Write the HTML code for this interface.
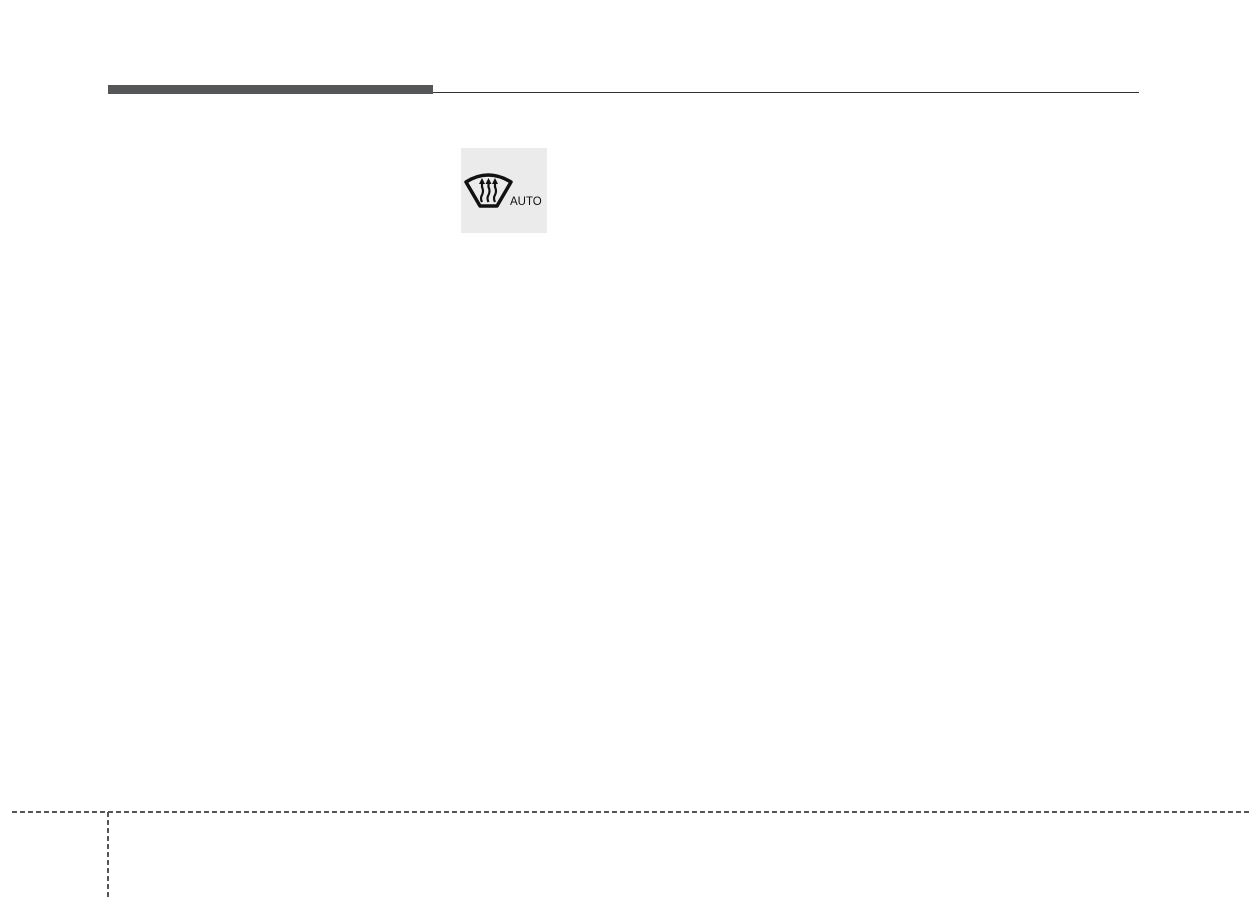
<!DOCTYPE html>
<html><head><meta charset="utf-8"><style>
html,body{margin:0;padding:0;background:#fff;}
body{width:1249px;height:897px;position:relative;overflow:hidden;}
.a{position:absolute;}
</style></head><body>
<div class="a" style="left:108px;top:85px;width:325px;height:9px;background:#555657"></div>
<div class="a" style="left:433px;top:92px;width:706px;height:1px;background:#333"></div>
<div class="a" style="left:461px;top:148px;width:86px;height:85px;background:#ebebeb"></div>
<svg class="a" style="left:461px;top:148px" width="86" height="85" viewBox="0 0 86 85">
<path d="M5 34 Q27 20 50 34 L36 58 L19 58 Z" fill="none" stroke="#111" stroke-width="3.5" stroke-linejoin="round"/>
<g stroke="#111" stroke-width="2.2" fill="none">
<path d="M21 54 q-2 -4 0 -7 q2 -4 0 -8 v-4"/>
<path d="M27.5 54 q-2 -4 0 -7 q2 -4 0 -8 v-4"/>
<path d="M34 54 q-2 -4 0 -7 q2 -4 0 -8 v-4"/>
</g>
<g fill="#111"><path d="M18 36 L21 30 L24 36Z"/><path d="M24.5 36 L27.5 30 L30.5 36Z"/><path d="M31 36 L34 30 L37 36Z"/></g>
<text x="49" y="57" font-family="Liberation Sans, sans-serif" font-size="11.5" fill="#111">AUTO</text>
</svg>
<svg class="a" style="left:0;top:0" width="1249" height="897">
<line x1="12" y1="812" x2="1249" y2="812" stroke="#555" stroke-width="2" stroke-dasharray="5,3"/>
<line x1="108" y1="812" x2="108" y2="897" stroke="#555" stroke-width="2" stroke-dasharray="5,3"/>
</svg>
</body></html>
